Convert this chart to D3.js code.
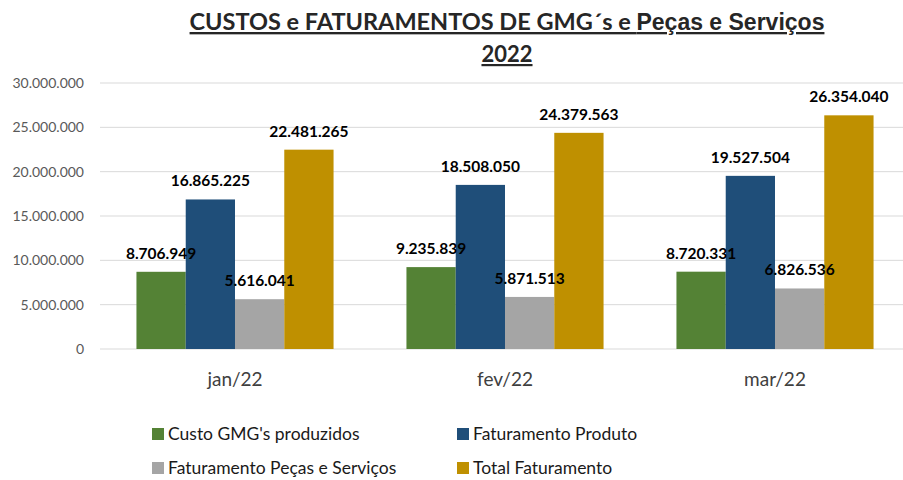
<!DOCTYPE html>
<html>
<head>
<meta charset="utf-8">
<script src="https://cdn.jsdelivr.net/npm/d3@7"></script>
<style>
  body { margin: 0; background: #fff; }
  svg { display: block; }
</style>
</head>
<body>
<div id="chart"></div>
<script>
var months = ["jan/22", "fev/22", "mar/22"];
var seriesNames = ["Custo GMG's produzidos", "Faturamento Produto", "Faturamento Peças e Serviços", "Total Faturamento"];
var custoGMG = [8706949, 9235839, 8720331];
var fatProduto = [16865225, 18508050, 19527504];
var fatPecas = [5616041, 5871513, 6826536];
var totalFat = [22481265, 24379563, 26354040];
var yTicks = [0, 5000000, 10000000, 15000000, 20000000, 25000000, 30000000];

var colors = ["#548235", "#1F4E79", "#A5A5A5", "#BF9000"];
var allSeries = [custoGMG, fatProduto, fatPecas, totalFat];

var W = 903, H = 480;
var margin = {top: 83, right: -7, bottom: 131, left: 100};
var width = W - margin.left - margin.right,
    height = H - margin.top - margin.bottom;

var fmt = d3.formatLocale({decimal: ",", thousands: ".", grouping: [3], currency: ["", ""]}).format(",d");
var font = "Lato, 'Open Sans', sans-serif";

var svg = d3.select("#chart").append("svg")
  .attr("width", W).attr("height", H);

// title
var title = svg.append("text")
  .attr("x", 507).attr("y", 30)
  .attr("text-anchor", "middle")
  .attr("font-weight", "bold")
  .attr("fill", "#262626")
  .attr("text-decoration", "underline");
title.append("tspan").attr("font-family", font).attr("font-size", 23.5).text("CUSTOS e FATURAMENTOS DE GMG´s e ");
title.append("tspan").attr("font-family", "'Liberation Sans', Arial, sans-serif").attr("font-size", 23).text("Peças e Serviços");
svg.append("text")
  .attr("x", 507).attr("y", 62)
  .attr("text-anchor", "middle")
  .attr("font-weight", "bold")
  .attr("font-family", font).attr("font-size", 22)
  .attr("fill", "#262626")
  .attr("text-decoration", "underline")
  .text("2022");

var g = svg.append("g").attr("transform", "translate(" + margin.left + "," + margin.top + ")");

var x0 = d3.scaleBand().domain(months).range([0, width]).paddingInner(0.27).paddingOuter(0.135);
var x1 = d3.scaleBand().domain(d3.range(4)).range([0, x0.bandwidth()]);
var y = d3.scaleLinear().domain([0, 30000000]).range([height, 0]);

// grid
g.selectAll(".grid").data(yTicks).enter().append("line")
  .attr("x1", 0).attr("x2", width)
  .attr("y1", d => y(d)).attr("y2", d => y(d))
  .attr("stroke", "#d9d9d9").attr("stroke-width", 1);

// y labels
g.selectAll(".ylab").data(yTicks).enter().append("text")
  .attr("x", -16).attr("y", d => y(d)).attr("dy", "0.35em")
  .attr("text-anchor", "end")
  .attr("font-family", font).attr("font-size", 14).attr("fill", "#595959")
  .text(d => fmt(d));

// bars
var groups = g.selectAll(".grp").data(months).enter().append("g")
  .attr("transform", d => "translate(" + x0(d) + ",0)");

groups.selectAll("rect").data((m, i) => allSeries.map((s, k) => ({k: k, v: s[i]})))
  .enter().append("rect")
  .attr("x", d => x1(d.k)).attr("width", x1.bandwidth())
  .attr("y", d => y(d.v)).attr("height", d => height - y(d.v))
  .attr("fill", d => colors[d.k]);

groups.selectAll(".lbl").data((m, i) => allSeries.map((s, k) => ({k: k, v: s[i]})))
  .enter().append("text")
  .attr("x", d => x1(d.k) + x1.bandwidth() / 2)
  .attr("y", d => y(d.v) - 13)
  .attr("text-anchor", "middle")
  .attr("font-family", font).attr("font-weight", "bold").attr("font-size", 15.5)
  .attr("fill", "#000")
  .text(d => fmt(d.v));

// x labels
g.selectAll(".xlab").data(months).enter().append("text")
  .attr("x", d => x0(d) + x0.bandwidth() / 2)
  .attr("y", height + 37)
  .attr("text-anchor", "middle")
  .attr("font-family", font).attr("font-size", 19).attr("fill", "#404040")
  .text(d => d);

// legend
var legPos = [[152, 434], [457, 434], [152, 468], [457, 468]];
var leg = svg.selectAll(".leg").data(seriesNames).enter().append("g")
  .attr("transform", (d, i) => "translate(" + legPos[i][0] + "," + legPos[i][1] + ")");
leg.append("rect").attr("x", 0).attr("y", -6).attr("width", 12).attr("height", 12)
  .attr("fill", (d, i) => colors[i]);
leg.append("text").attr("x", 16).attr("y", 0).attr("dy", "0.35em")
  .attr("font-family", font).attr("font-size", 17.5).attr("fill", "#1a1a1a")
  .text(d => d);
</script>
</body>
</html>
